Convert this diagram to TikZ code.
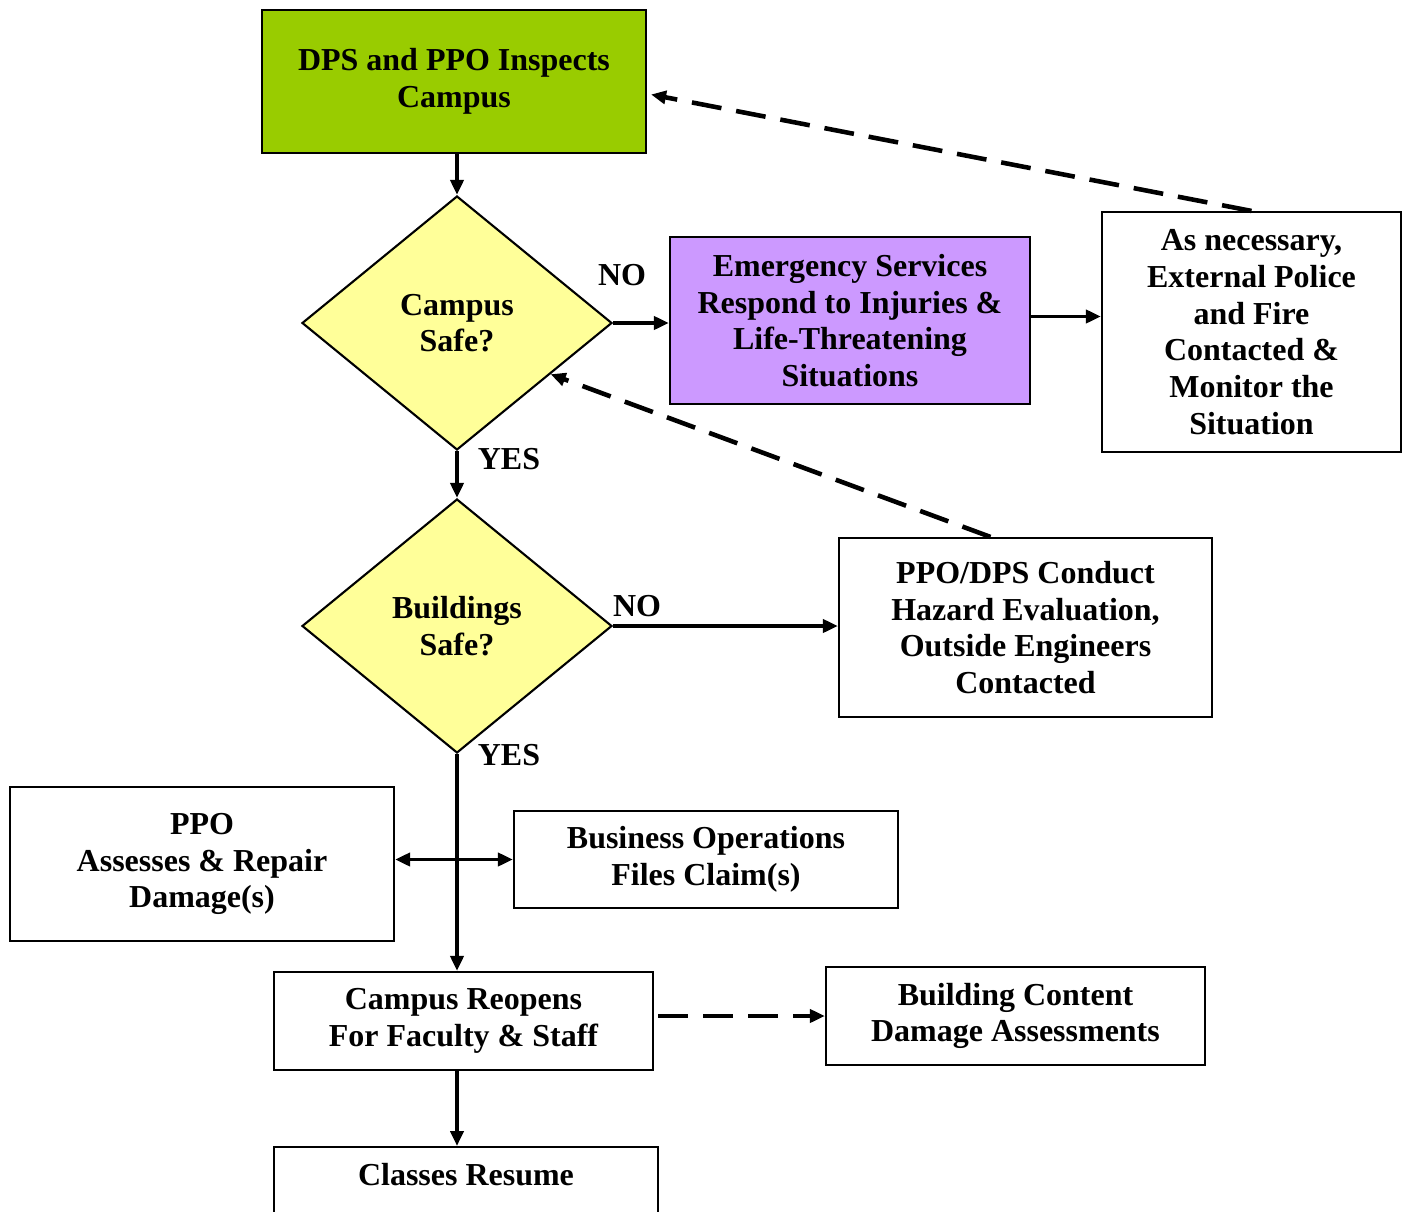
\documentclass[tikz,border=0pt]{standalone}
\usepackage{fontspec}
\setmainfont{Liberation Serif}
\usetikzlibrary{arrows.meta, shapes.geometric, calc}
\definecolor{inspect}{HTML}{99CC00}
\definecolor{query}{HTML}{FFFF99}
\definecolor{emerg}{HTML}{CC99FF}

\begin{document}
\begin{tikzpicture}[
    >={Triangle[length=0.15cm, width=0.13cm]},
    font=\fontsize{9.1}{10.45}\selectfont\bfseries,
    box/.style={draw, line width=0.6pt, align=center, inner sep=0.08cm},
    decide/.style={draw, diamond, fill=query, line width=0.6pt, align=center,
        inner sep=0pt, minimum width=3.1cm, minimum height=2.54cm},
    flow/.style={->, line width=1.1pt},
    dashflow/.style={->, line width=1.3pt, dash pattern=on 0.3cm off 0.15cm},
    lab/.style={inner sep=0pt},
]
\useasboundingbox (0,0) rectangle (14.08,12.11);

% boxes and decisions
\node[box, fill=inspect, minimum width=3.84cm, minimum height=1.43cm] (insp)
    at (4.54,11.295) {DPS and PPO Inspects\\ Campus};
\node[decide] (camp) at (4.57,8.88) {Campus\\ Safe?};
\node[box, fill=emerg, minimum width=3.6cm, minimum height=1.67cm] (resp)
    at (8.50,8.905) {Emergency Services\\ Respond to Injuries \&\\
    Life-Threatening\\ Situations};
\node[box, minimum width=2.99cm, minimum height=2.4cm] (ext)
    at (12.515,8.79) {As necessary,\\ External Police\\ and Fire\\
    Contacted \&\\ Monitor the\\ Situation};
\node[decide] (bldg) at (4.57,5.85) {Buildings\\ Safe?};
\node[box, minimum width=3.73cm, minimum height=1.79cm] (haz)
    at (10.255,5.835) {PPO/DPS Conduct\\ Hazard Evaluation,\\
    Outside Engineers\\ Contacted};
\node[box, minimum width=3.84cm, minimum height=1.54cm] (ppo)
    at (2.02,3.47) {PPO\\ Assesses \& Repair\\ Damage(s)};
\node[box, minimum width=3.84cm, minimum height=0.97cm] (biz)
    at (7.06,3.515) {Business Operations\\ Files Claim(s)};
\node[box, minimum width=3.79cm, minimum height=0.98cm] (reopen)
    at (4.635,1.90) {Campus Reopens\\ For Faculty \& Staff};
\node[box, minimum width=3.79cm, minimum height=0.98cm] (bcon)
    at (10.155,1.95) {Building Content\\ Damage Assessments};
\node[box, anchor=north, minimum width=3.84cm, text height=0.28cm,
    text depth=0.62cm, inner ysep=0.1cm] (classes)
    at (4.66,0.65) {Classes Resume};

% yes / no labels
\node[lab] (no1) at ([xshift=0.09cm, yshift=0.48cm]camp.east) {NO};
\node[lab] (yes1) at ([xshift=0.52cm, yshift=-0.08cm]camp.south) {YES};
\node[lab] (no2) at ([xshift=0.24cm, yshift=0.2cm]bldg.east) {NO};
\node[lab] (yes2) at ([xshift=0.52cm, yshift=-0.01cm]bldg.south) {YES};

% main flow
\draw[flow] (insp.south -| camp.north) -- (camp.north);
\draw[flow] (camp.east) -- (camp.east -| resp.west);
\draw[flow] ([yshift=0.04cm]resp.east) -- ([yshift=0.04cm]resp.east -| ext.west);
\draw[flow] (camp.south) -- (bldg.north);
\draw[flow] (bldg.east) -- (bldg.east -| haz.west);
\draw[flow] (bldg.south) -- (bldg.south |- reopen.north);
\draw[<->, line width=1.1pt] (ppo.east |- biz.west) -- (biz.west);
\draw[flow] (bldg.south |- reopen.south) -- (bldg.south |- classes.north);

% feedback (dashed)
\draw[dashflow] (ext.north) -- ([xshift=0.04cm, yshift=-0.13cm]insp.east);
\draw[dashflow] ([xshift=-0.35cm]haz.north) -- ($(camp.east)!0.4!(camp.south)$);
\draw[dashflow, shorten <=0.04cm] (reopen.east |- bcon.west) -- (bcon.west);

\end{tikzpicture}
\end{document}
